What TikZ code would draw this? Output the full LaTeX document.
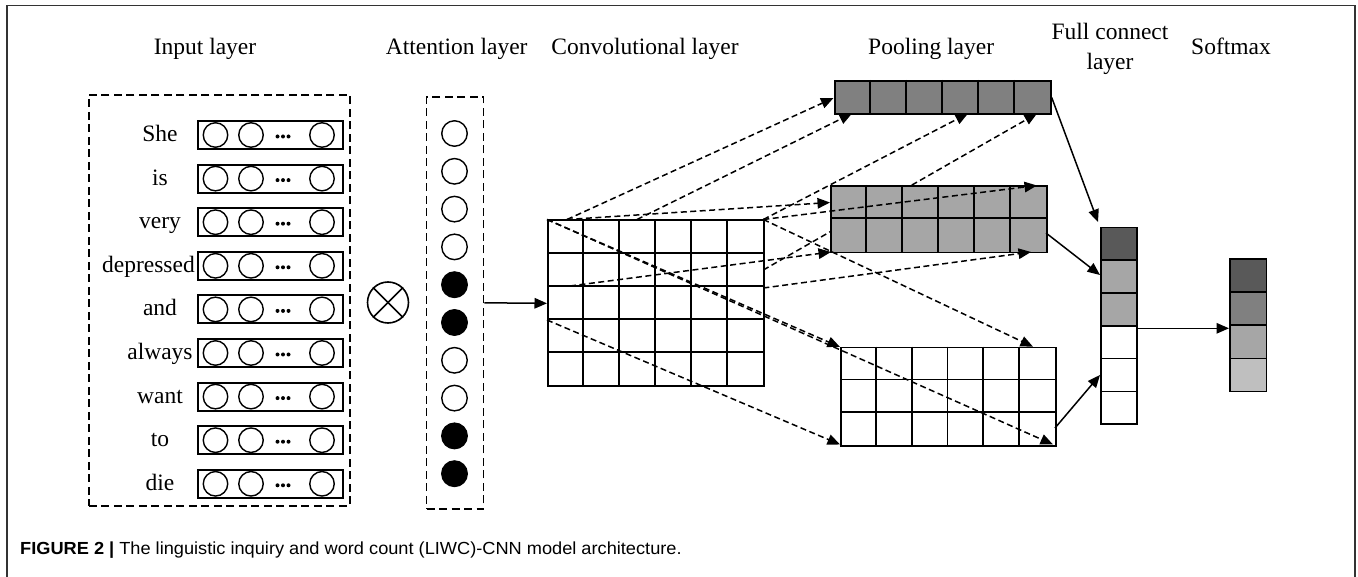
\documentclass[tikz,border=0pt]{standalone}
\usepackage{graphicx}
\usepackage{fontspec}
\setmainfont{Liberation Serif}
\newfontfamily\capfont{Liberation Sans}
\usetikzlibrary{arrows.meta,calc}
\newcommand\lblfont{\fontsize{23.5}{28}\selectfont}
\begin{document}
\begin{tikzpicture}[x=1pt,y=-1pt,
  tip/.style={-{Triangle[length=12.5pt,width=10.5pt]}},
  darr/.style={tip, line width=1.5pt, dash pattern=on 6pt off 3.5pt},
  sarr/.style={tip, line width=1.5pt},
  dbox/.style={draw, line width=1.6pt, dash pattern=on 8pt off 4.5pt, inner sep=0pt, anchor=north west},
  wrect/.style={draw, line width=1.9pt, minimum width=145pt, minimum height=28pt, inner sep=0pt},
  unit/.style={circle, draw, line width=1.4pt, minimum size=24.5pt, inner sep=0pt},
  att/.style={circle, draw, line width=1.4pt, minimum size=25.5pt, inner sep=0pt},
  attf/.style={att, fill=black},
  lbl/.style={font=\lblfont, anchor=base, inner sep=0pt},
  gridline/.style={line width=1.7pt},
  blk/.style={draw, line width=1.7pt, inner sep=0pt, anchor=north west}
]
\useasboundingbox (0,0) rectangle (1358,577);
% outer frame
\draw[line width=1.3pt, black!80] (7,577) -- (7,5.5) -- (1355,5.5) -- (1355,577);

% column titles
\node[lbl] (tin) at (205,55) {Input layer};
\node[lbl] (tatt) at (456.7,55) {Attention layer};
\node[lbl] (tconv) at (645,55) {Convolutional layer};
\node[lbl, anchor=base west] (tpool) at (868,55) {Pooling layer};
\node[lbl] (tfc1) at (1110,40) {Full connect};
\node[lbl] (tfc2) at (1110,70) {layer};
\node[lbl] (tsm) at (1231,55) {Softmax};

% input layer
\node[dbox, minimum width=261pt, minimum height=411pt] (inbox) at (88,94) {};
\foreach \i in {0,...,8}{
  \pgfmathsetmacro{\yy}{135+43.6*\i}
  \node[wrect] (r\i) at (270.5,\yy) {};
  \node[unit] (ua\i) at (215.5,\yy) {};
  \node[unit] (ub\i) at (251,\yy) {};
  \node[unit] (uc\i) at (322,\yy) {};
  \foreach \dx in {277.5,283,288.5}{
    \fill (\dx,\yy+1.5) circle (2pt);
  }
}
\node[lbl] (w0) at (160,141.5) {She};
\node[lbl] (w1) at (160,185.1) {is};
\node[lbl] (w2) at (160,228.7) {very};
\node[lbl, anchor=base east] (w3) at (195,272.3) {depressed};
\node[lbl] (w4) at (160,315.9) {and};
\node[lbl] (w5) at (160,359.5) {always};
\node[lbl] (w6) at (160,403.1) {want};
\node[lbl] (w7) at (160,446.7) {to};
\node[lbl] (w8) at (160,490.3) {die};

% otimes
\node[circle, draw, line width=1.6pt, minimum size=41pt, inner sep=0pt] (ot) at (388,302.5) {};
\draw[line width=1.6pt] (ot.north west) -- (ot.south east);
\draw[line width=1.6pt] (ot.north east) -- (ot.south west);

% attention layer
\node[dbox, minimum width=57pt, minimum height=412pt] (attb) at (425.7,96) {};
\foreach \i/\s in {0/att,1/att,2/att,3/att,4/attf,5/attf,6/att,7/att,8/attf,9/attf}{
  \node[\s] (a\i) at (454.5,133.5+37.8*\i) {};
}

% convolutional layer
\node[blk, fill=white, minimum width=216.3pt, minimum height=166pt] (conv) at (547,219.5) {};
\foreach \i in {1,...,5} \draw[gridline] (547+\i*36.05,219.5) -- ++(0,166);
\foreach \j in {1,...,4} \draw[gridline] (547,219.5+\j*33.2) -- ++(216.3,0);

% pooling layer 1 (top)
\node[blk, fill=black!50, minimum width=215.7pt, minimum height=33.3pt] (p1) at (834.3,80) {};
\foreach \i in {1,...,5} \draw[gridline] (834.3+\i*35.95,80) -- ++(0,33.3);
% pooling layer 3 (bottom)
\node[blk, fill=white, minimum width=215pt, minimum height=98.3pt] (p3) at (840,346.7) {};
\foreach \i in {1,...,5} \draw[gridline] (840+\i*35.83,346.7) -- ++(0,98.3);
\foreach \j in {1,2} \draw[gridline] (840,346.7+\j*32.77) -- ++(215,0);

% coordinates for dashed connectors
\coordinate (sa) at (567,219.5);
\coordinate (sb) at (637,219.5);
\coordinate (sc) at (763.3,219.5);
\coordinate (sd) at (763.3,270);
\coordinate (sh) at (570,286);
\coordinate (si) at (763.3,288);
\coordinate (sf) at (547,219.5);
\coordinate (sj) at (547,320);
\coordinate (ea) at (833.5,98);
\coordinate (eb) at (852,113.5);
\coordinate (ec) at (968,113.5);
\coordinate (ed) at (1037,113.5);
\coordinate (ee) at (830,202.5);
\coordinate (ek) at (1037,185.5);
\coordinate (eh) at (831,252);
\coordinate (ei) at (1031,252);
\coordinate (el) at (1033,346.7);
\coordinate (ef) at (840,347);
\coordinate (eg) at (1053,444.5);
\coordinate (ej) at (840,444.5);

% lines hidden behind pooling layer 2
\draw[darr] (sc) -- (ec);
\draw[darr] (sd) -- (ed);

% pooling layer 2 (middle)
\node[blk, fill=black!35, minimum width=216pt, minimum height=66.7pt] (p2) at (830,185) {};
\foreach \i in {1,...,5} \draw[gridline] (830+\i*36,185) -- ++(0,66.7);
\draw[gridline] (830,218.35) -- ++(216,0);

% remaining dashed connectors
\draw[darr] (sa) -- (ea);
\draw[darr] (sb) -- (eb);
\draw[darr] (sa) -- (ee);
\draw[darr] (sc) -- (ek);
\draw[darr] (sh) -- (eh);
\draw[darr] (si) -- (ei);
\draw[darr] (sc) -- (el);
\draw[darr] (sf) -- (ef);
\draw[darr] (sf) -- (eg);
\draw[darr] (sj) -- (ej);

% full connect layer
\foreach \i/\c in {0/black!65,1/black!35,2/black!35,3/white,4/white,5/white}{
  \node[blk, fill=\c, minimum width=36pt, minimum height=32.77pt] (fc\i) at (1100,226.7+32.77*\i) {};
}
% softmax
\foreach \i/\c in {0/black!65,1/black!50,2/black!35,3/black!25}{
  \node[blk, fill=\c, minimum width=36.7pt, minimum height=33.1pt] (sm\i) at (1229,258.3+33.1*\i) {};
}

% solid connectors
\coordinate (fin1) at (1098,222);
\coordinate (fin2) at (1100,275);
\coordinate (fin3) at (1100,375);
\coordinate (p2out) at (1046,233);
\coordinate (p3out) at (1055,428);
\coordinate (fcout) at (1136,328.3);
\coordinate (smin) at (1229,328.3);
\draw[sarr] (attb.east) -- (conv.west);
\draw[sarr] (p1.east) -- (fin1);
\draw[sarr] (p2out) -- (fin2);
\draw[sarr] (p3out) -- (fin3);
\draw[sarr] (fcout) -- (smin);

% caption
\node[anchor=base west, inner sep=0pt, font=\capfont\fontsize{17.5}{20}\selectfont] (cap) at (20,554)
  {\scalebox{1.04}[1]{\textbf{FIGURE 2 |} The linguistic inquiry and word count (LIWC)-CNN model architecture.}};
\end{tikzpicture}
\end{document}
